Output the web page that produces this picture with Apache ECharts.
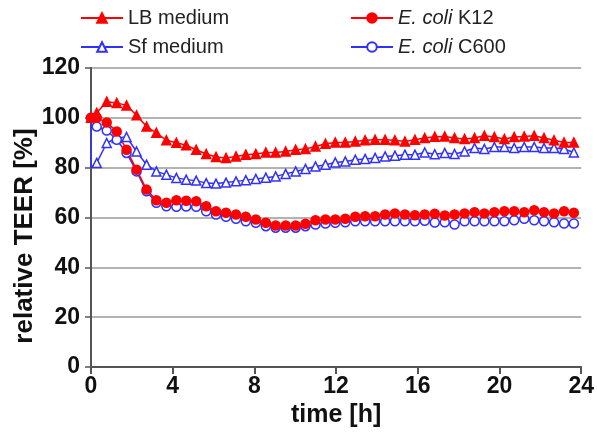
<!DOCTYPE html>
<html>
<head>
<meta charset="utf-8">
<script src="https://cdn.jsdelivr.net/npm/echarts@6/dist/echarts.min.js"></script>
<style>
  html, body { margin: 0; padding: 0; background: #fff; }
  #chart { width: 597px; height: 433px; }
</style>
</head>
<body>
<div id="chart"></div>
<script>
// time points [h]
const times = [0, 0.28, 0.77, 1.26, 1.74, 2.23, 2.72, 3.2, 3.69, 4.18,
  4.66, 5.15, 5.64, 6.12, 6.61, 7.1, 7.58, 8.07, 8.56, 9.04,
  9.53, 10.02, 10.5, 10.99, 11.48, 11.96, 12.45, 12.94, 13.42, 13.91,
  14.4, 14.88, 15.37, 15.86, 16.34, 16.83, 17.32, 17.8, 18.29, 18.78,
  19.26, 19.75, 20.24, 20.72, 21.21, 21.7, 22.18, 22.67, 23.16, 23.64];

// relative TEER [%]
const lbMedium = [100, 102, 106.5, 106, 105, 101, 96.5, 94, 91, 90,
  89, 87.2, 85.5, 84.3, 83.9, 84.5, 85.2, 85.5, 86.1, 86.1,
  86.5, 87.2, 87.5, 88.5, 89.6, 90.1, 90.1, 90.5, 91, 91.2,
  91.2, 91, 90.5, 91.2, 91.9, 92.4, 92.5, 91.9, 91.5, 91.9,
  92.8, 92.3, 91.5, 92.3, 92.5, 92.8, 91.9, 91, 90.1, 90.1];

const sfMedium = [80, 81.9, 89.9, 91.9, 92.3, 86.5, 81.2, 78.5, 77.2, 75.9,
  75.2, 74.8, 73.8, 73.6, 74, 74.5, 75, 75.5, 76, 76.5,
  77.5, 78.5, 79.5, 80.5, 81.2, 82.1, 82.5, 83.2, 83.5, 83.9,
  84.5, 84.8, 85.2, 85.2, 86.1, 85.4, 85.9, 85.5, 86.5, 87.9,
  87.5, 88.3, 88.3, 87.9, 88.3, 88.3, 87.9, 87.9, 87.5, 86.1];
const sfStart = [0, 100]; // value before medium change at t = 0

const k12 = [100, 100, 98.1, 94.5, 87.2, 79.2, 71.2, 66.9, 65.9, 66.9,
  66.7, 66.5, 64.5, 62.5, 61.9, 61.2, 60.3, 59.2, 57.9, 56.8,
  56.8, 56.8, 57.5, 58.9, 59.2, 59.2, 59.5, 60.3, 60.5, 60.5,
  61.2, 61.6, 61.2, 60.9, 61.2, 61.5, 60.8, 61.2, 61.6, 62.1,
  61.6, 62.1, 62.5, 62.5, 62.1, 62.9, 62.1, 61.6, 62.5, 61.9];

const c600 = [100, 96.5, 94.9, 91.2, 85.9, 78.5, 70.5, 65.9, 64.5, 64.3,
  64.4, 64.3, 62.5, 61.2, 60.3, 59.5, 58.5, 57.9, 56.5, 55.9,
  55.9, 55.9, 56.5, 57.2, 57.6, 57.9, 58.1, 58.5, 58.5, 58.5,
  58.5, 58.5, 58.5, 58.5, 58.7, 58, 58.1, 57.2, 58.5, 58.5,
  58.5, 58.5, 58.5, 58.9, 59.5, 58.9, 58.5, 58.1, 57.6, 57.6];

const names = ['LB medium', 'Sf medium', 'E. coli K12', 'E. coli C600'];
const yTicks = { min: 0, max: 120, step: 20 };
const xTicks = { min: 0, max: 24, step: 4 };

const RED = '#ff0000';
const BLUE = '#3030ff';
const FONT = 'Liberation Sans, Arial, Helvetica, sans-serif';

const pairs = (vals) => times.map((t, i) => [t, vals[i]]);

// Sf: drop at t = 0 drawn as line only, markers from the first sample on
const sfData = [{ value: sfStart, symbol: 'none' }, { value: [times[0], sfMedium[0]], symbol: 'none' }]
  .concat(pairs(sfMedium).slice(1));

const chart = echarts.init(document.getElementById('chart'));

const legendBase = {
  orient: 'vertical',
  top: 8,
  padding: 0,
  itemWidth: 42,
  itemHeight: 12,
  itemGap: 9,
  textStyle: {
    fontFamily: FONT, fontSize: 20, color: '#222', lineHeight: 20,
    rich: { i: { fontStyle: 'italic', fontSize: 20, fontFamily: FONT, color: '#222' } }
  },
  formatter: (name) => name.indexOf('E. coli') === 0 ? '{i|E. coli}' + name.slice(7) : name
};

const mkSeries = (name, data, color, symbol, filled) => ({
  name: name,
  type: 'line',
  data: data,
  symbol: symbol,
  symbolSize: 9,
  showAllSymbol: true,
  animation: false,
  lineStyle: { color: color, width: 1.5 },
  itemStyle: { color: filled ? color : '#fff', borderColor: color, borderWidth: 1.5 }
});

chart.setOption({
  animation: false,
  grid: { left: 91, right: 13, top: 68, bottom: 65 },
  legend: [
    Object.assign({}, legendBase, { left: 80, data: [names[0], names[1]] }),
    Object.assign({}, legendBase, { left: 350, data: [names[2], names[3]] })
  ],
  xAxis: {
    type: 'value',
    min: xTicks.min, max: xTicks.max, interval: xTicks.step,
    name: 'time [h]',
    nameLocation: 'middle',
    nameGap: 36,
    nameTextStyle: { fontFamily: FONT, fontSize: 25, fontWeight: 'bold', color: '#111' },
    axisLine: { lineStyle: { color: '#555', width: 2 } },
    axisTick: { show: true, length: 7, lineStyle: { color: '#555', width: 2 } },
    axisLabel: { margin: 8, fontFamily: FONT, fontSize: 23, fontWeight: 'bold', color: '#111' },
    splitLine: { show: false }
  },
  yAxis: {
    type: 'value',
    min: yTicks.min, max: yTicks.max, interval: yTicks.step,
    axisLine: { show: true, lineStyle: { color: '#555', width: 2 } },
    axisTick: { show: true, length: 6, lineStyle: { color: '#555', width: 1.5 } },
    axisLabel: { margin: 11, fontFamily: FONT, fontSize: 23, fontWeight: 'bold', color: '#111' },
    splitLine: { show: true, lineStyle: { color: '#9a9a9a', width: 1.5 } }
  },
  graphic: [{
    type: 'text',
    x: 25, y: 236,
    rotation: Math.PI / 2,
    style: {
      text: 'relative TEER [%]',
      font: 'bold 26px ' + FONT,
      fill: '#111',
      textAlign: 'center',
      textVerticalAlign: 'middle'
    }
  }],
  series: [
    mkSeries(names[1], sfData, BLUE, 'triangle', false),
    mkSeries(names[3], pairs(c600), BLUE, 'circle', false),
    mkSeries(names[0], pairs(lbMedium), RED, 'triangle', true),
    mkSeries(names[2], pairs(k12), RED, 'circle', true)
  ]
});
</script>
</body>
</html>
